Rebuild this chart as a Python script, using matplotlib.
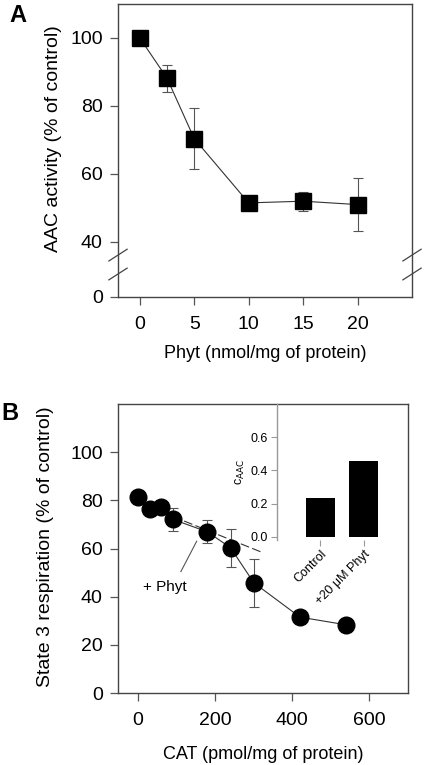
import numpy as np
import matplotlib
matplotlib.use("Agg")
import matplotlib.pyplot as plt

plt.rcParams['font.family'] = ['Liberation Sans', 'DejaVu Sans']

# panel A: AAC activity vs Phyt
phyt = [0, 2.5, 5, 10, 15, 20]
aac = [100, 88.2, 70.4, 51.5, 52.0, 51.0]
aac_err = [0, 4.0, 9.0, 0, 2.8, 7.9]

# panel B: state 3 respiration vs CAT
cat = [0, 30, 60, 90, 180, 240, 300, 420, 540]
resp = [81.2, 76.6, 77.3, 72.1, 66.9, 60.3, 45.8, 31.5, 28.3]
resp_err = [0, 0, 0, 4.7, 4.8, 8.0, 10.0, 0, 0]

# "+ Phyt" line
phyt_line_x = [90, 320]
phyt_line_y = [73.3, 58.5]

# inset bars
inset_labels = ["Control", "+20 \u03bcM Phyt"]
inset_vals = [0.232, 0.459]

W, H = 425, 765
line_col = '#333333'
spine_col = '#444444'


def rect(l, t, r, b):
    return [l / W, 1 - b / H, (r - l) / W, (b - t) / H]


def style(ax):
    for s in ax.spines.values():
        s.set_color(spine_col)
        s.set_linewidth(1.0)
    ax.tick_params(direction='out', length=6, width=0.9, color='#555555',
                   labelsize=14)
    ax.tick_params(axis='x', pad=8)
    ax.tick_params(axis='y', pad=5)


fig = plt.figure(figsize=(W / 100, H / 100), dpi=100)

# ---------- panel A ----------
k = (40 - 23.82) / 40


def fwd(y):
    y = np.asarray(y, dtype=float)
    return np.where(y >= 40, y, 40 - (40 - y) * k)


def inv(u):
    u = np.asarray(u, dtype=float)
    return np.where(u >= 40, u, 40 - (40 - u) / k)


axA = fig.add_axes(rect(118, 4, 412, 297))
axA.set_yscale('function', functions=(fwd, inv))
axA.errorbar(phyt, aac, yerr=aac_err, fmt='none', ecolor='#555555',
             elinewidth=0.8, capsize=3.5, capthick=0.8, zorder=2)
axA.plot(phyt, aac, color=line_col, lw=0.8, marker='s', markersize=12,
         markerfacecolor='black', markeredgecolor='black', zorder=3)
axA.set_xlim(-2, 25)
axA.set_ylim(0, 110)
axA.set_xticks([0, 5, 10, 15, 20])
axA.set_yticks([0, 40, 60, 80, 100])
axA.set_yticks([], minor=True)
style(axA)
axA.set_xlabel("Phyt (nmol/mg of protein)", fontsize=13)
axA.set_ylabel("AAC activity (% of control)", fontsize=14)
axA.xaxis.set_label_coords(0.5, -0.165)
axA.yaxis.set_label_coords(-0.19, 0.54)

# axis break marks
for xf in (0, 1):
    for yf in (0.143, 0.0785):
        axA.plot([xf - 0.031, xf + 0.031], [yf - 0.02, yf + 0.02],
                 transform=axA.transAxes, color='#444444', lw=0.9,
                 clip_on=False)

fig.text(18 / W, 1 - 16 / H, "A", fontsize=17, fontweight='bold',
         ha='center', va='center')

# ---------- panel B ----------
axB = fig.add_axes(rect(118, 404, 408, 693))
axB.errorbar(cat, resp, yerr=resp_err, fmt='none', ecolor='#555555',
             elinewidth=0.8, capsize=3.5, capthick=0.8, zorder=2)
axB.plot(phyt_line_x, phyt_line_y, color=line_col, lw=0.8,
         linestyle=(0, (8, 3)), zorder=1)
axB.plot(cat, resp, color=line_col, lw=0.8, marker='o', markersize=12,
         markerfacecolor='black', markeredgecolor='black', zorder=3)
axB.plot([111, 152], [50.4, 63], color='#555555', lw=0.8)
axB.text(69, 44.1, "+ Phyt", fontsize=11, ha='center', va='center')
axB.set_xlim(-52, 700)
axB.set_ylim(0, 120)
axB.set_xticks([0, 200, 400, 600])
axB.set_yticks([0, 20, 40, 60, 80, 100])
style(axB)
axB.set_xlabel("CAT (pmol/mg of protein)", fontsize=13)
axB.set_ylabel("State 3 respiration (% of control)", fontsize=14)
axB.xaxis.set_label_coords(0.5, -0.183)
axB.yaxis.set_label_coords(-0.222, 0.506)

fig.text(10 / W, 1 - 414 / H, "B", fontsize=17, fontweight='bold',
         ha='center', va='center')

# ---------- inset ----------
axI = fig.add_axes(rect(276.7, 404.3, 400, 540))
axI.patch.set_visible(False)
axI.bar([0, 1], inset_vals, width=0.667, color='black')
axI.set_xlim(-1.0, 1.83)
axI.set_ylim(-0.02, 0.8)
for s in ('top', 'right', 'bottom'):
    axI.spines[s].set_visible(False)
axI.spines['left'].set_color('#999999')
axI.spines['left'].set_linewidth(1.0)
axI.set_yticks([0.0, 0.2, 0.4, 0.6])
axI.set_yticklabels(["0.0", "0.2", "0.4", "0.6"])
axI.set_xticks([0, 1])
axI.set_xticklabels(inset_labels, rotation=45, ha='right',
                    rotation_mode='anchor')
axI.tick_params(direction='out', length=4, width=0.8, color='#999999',
                labelsize=9, pad=2)
axI.set_ylabel(r"c$_{\mathrm{AAC}}$", fontsize=9, labelpad=3)

fig.savefig("out.png", dpi=100)
